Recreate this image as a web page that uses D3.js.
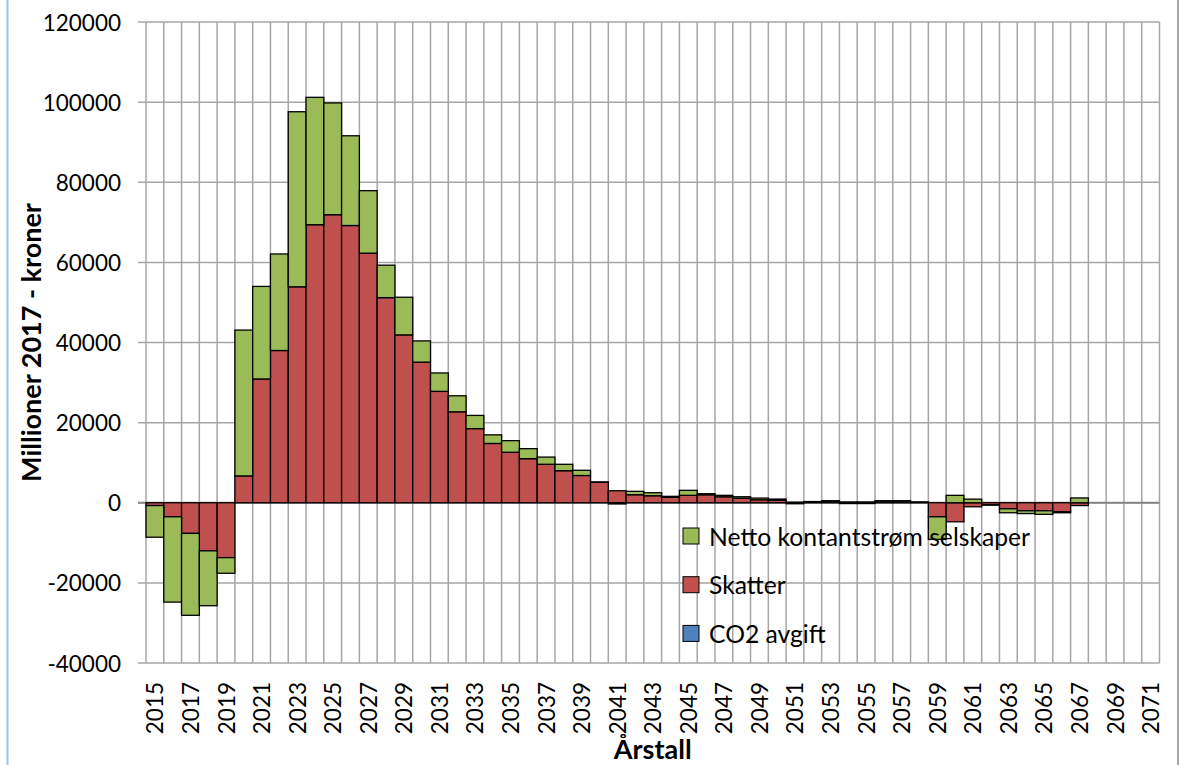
<!DOCTYPE html>
<html>
<head>
<meta charset="utf-8">
<script src="https://cdn.jsdelivr.net/npm/d3@7"></script>
<style>
  body { margin: 0; background: #fff; }
  svg { display: block; font-family: Lato, "Open Sans", sans-serif; }
</style>
</head>
<body>
<div id="chart"></div>
<script>
// chart data (millioner 2017-kroner)
var years = [2015, 2016, 2017, 2018, 2019, 2020, 2021, 2022, 2023, 2024,
             2025, 2026, 2027, 2028, 2029, 2030, 2031, 2032, 2033, 2034,
             2035, 2036, 2037, 2038, 2039, 2040, 2041, 2042, 2043, 2044,
             2045, 2046, 2047, 2048, 2049, 2050, 2051, 2052, 2053, 2054,
             2055, 2056, 2057, 2058, 2059, 2060, 2061, 2062, 2063, 2064,
             2065, 2066, 2067, 2068, 2069, 2070, 2071];

var co2_avgift = [0, 0, 0, 0, 0, 0, 0, 0, 0, 0,
                  0, 0, 0, 0, 0, 0, 0, 0, 0, 0,
                  0, 0, 0, 0, 0, 0, 0, 0, 0, 0,
                  0, 0, 0, 0, 0, 0, 0, 0, 0, 0,
                  0, 0, 0, 0, 0, 0, 0, 0, 0, 0,
                  0, 0, 0, 0, 0, 0, 0];

var skatter = [-700, -3500, -7650, -12000, -13700, 6700, 30900, 38000, 53900, 69400,
               71900, 69200, 62300, 51200, 41900, 35100, 27800, 22700, 18500, 14800,
               12600, 11000, 9600, 8000, 6800, 5100, 3000, 2000, 1750, 1350,
               1850, 2000, 1500, 1100, 750, 600, 150, 300, 350, 200,
               200, 400, 400, 100, -3500, -4750, -1000, -500, -1500, -2000,
               -2000, -2250, -700, 0, 0, 0, 0];

var netto = [-7900, -21300, -20450, -13700, -3900, 36400, 23100, 24100, 43700, 31800,
             27900, 22400, 15600, 8100, 9400, 5300, 4600, 4000, 3300, 2150,
             2900, 2500, 1800, 1600, 1300, 100, -300, 850, 750, 250,
             1250, 250, 350, 400, 420, 320, -250, 0, 150, -200,
             -200, 100, 100, 100, -5650, 1850, 900, -100, -1000, -700,
             -900, -250, 1200, 0, 0, 0, 0];

var y_ticks = [-40000, -20000, 0, 20000, 40000, 60000, 80000, 100000, 120000];
var year_labels = years.filter(function(d, i) { return i % 2 == 0; });

var legend_names = ["Netto kontantstrøm selskaper", "Skatter", "CO2 avgift"];
var legend_keys = ["netto", "skatter", "co2"];

// sizes
var svg_w = 1179;
var svg_h = 765;
var plot = { left: 146, right: 1159.5, top: 22, bottom: 663 };

var colors = { co2: "#4F81BD", skatter: "#C0504D", netto: "#9BBB59" };
var grid_color = "#A6A6A6";

var svg = d3.select("#chart").append("svg")
	.attr("width", svg_w)
	.attr("height", svg_h);

// page edges
svg.append("line")
	.attr("x1", 7.5).attr("x2", 7.5).attr("y1", 0).attr("y2", svg_h)
	.attr("stroke", "#9DC3E6").attr("stroke-width", 2);
svg.append("line")
	.attr("x1", 1178).attr("x2", 1178).attr("y1", 0).attr("y2", svg_h)
	.attr("stroke", "#A6A6A6").attr("stroke-width", 2);

var x = d3.scaleBand()
	.domain(years)
	.range([plot.left, plot.right])
	.padding(0);

var y = d3.scaleLinear()
	.domain([-40000, 120000])
	.range([plot.bottom, plot.top]);

// horizontal gridlines + small ticks on the left
svg.append("g").selectAll("line")
	.data(y_ticks)
	.enter()
	.append("line")
	.attr("x1", plot.left - 8)
	.attr("x2", plot.right)
	.attr("y1", function(d) { return y(d); })
	.attr("y2", function(d) { return y(d); })
	.attr("stroke", grid_color)
	.attr("stroke-width", 1.5);

// vertical gridlines on category borders
var borders = years.map(function(d) { return x(d); }).concat([plot.right]);
svg.append("g").selectAll("line")
	.data(borders)
	.enter()
	.append("line")
	.attr("x1", function(d) { return d; })
	.attr("x2", function(d) { return d; })
	.attr("y1", plot.top)
	.attr("y2", plot.bottom)
	.attr("stroke", grid_color)
	.attr("stroke-width", 1.5);

// stacked bars
var rows = years.map(function(yr, i) {
	return { year: yr, co2: co2_avgift[i], skatter: skatter[i], netto: netto[i] };
});

var stack = d3.stack()
	.keys(["co2", "skatter", "netto"])
	.offset(d3.stackOffsetDiverging);

var series = stack(rows);

// zero line (category axis)
svg.append("line")
	.attr("x1", plot.left - 8)
	.attr("x2", plot.right)
	.attr("y1", y(0))
	.attr("y2", y(0))
	.attr("stroke", "#868686")
	.attr("stroke-width", 2.2);

svg.append("g").selectAll("g")
	.data(series)
	.enter()
	.append("g")
	.attr("fill", function(s) { return colors[s.key]; })
	.selectAll("rect")
	.data(function(s) { return s.filter(function(d) { return d[1] - d[0] != 0; }); })
	.enter()
	.append("rect")
	.attr("x", function(d) { return x(d.data.year); })
	.attr("width", x.bandwidth())
	.attr("y", function(d) { return y(Math.max(d[0], d[1])); })
	.attr("height", function(d) { return Math.abs(y(d[0]) - y(d[1])); })
	.attr("stroke", "#000")
	.attr("stroke-width", 1.3);

// y tick labels
svg.append("g").selectAll("text")
	.data(y_ticks)
	.enter()
	.append("text")
	.attr("x", 121)
	.attr("y", function(d) { return y(d); })
	.attr("text-anchor", "end")
	.attr("dominant-baseline", "central")
	.attr("font-size", 22.5)
	.attr("fill", "#000")
	.text(function(d) { return d; });

// year labels, rotated
svg.append("g").selectAll("text")
	.data(year_labels)
	.enter()
	.append("text")
	.attr("transform", function(d) {
		return "translate(" + (x(d) + x.bandwidth() / 2) + ",682) rotate(-90)";
	})
	.attr("text-anchor", "end")
	.attr("dominant-baseline", "central")
	.attr("font-size", 22.5)
	.attr("fill", "#000")
	.text(function(d) { return d; });

// axis titles
svg.append("text")
	.attr("transform", "translate(30," + ((plot.top + plot.bottom) / 2) + ") rotate(-90)")
	.attr("text-anchor", "middle")
	.attr("dominant-baseline", "central")
	.attr("font-size", 27)
	.attr("font-weight", "bold")
	.text("Millioner 2017 - kroner");

svg.append("text")
	.attr("x", (plot.left + plot.right) / 2)
	.attr("y", 759)
	.attr("text-anchor", "middle")
	.attr("font-size", 27)
	.attr("font-weight", "bold")
	.text("Årstall");

// legend (drawn on top of the bars, no box)
var legend = svg.append("g").selectAll("g")
	.data(legend_keys)
	.enter()
	.append("g")
	.attr("transform", function(d, i) { return "translate(683," + (536 + i * 48.7) + ")"; });

legend.append("rect")
	.attr("x", 0).attr("y", -8)
	.attr("width", 16).attr("height", 16)
	.attr("fill", function(d) { return colors[d]; })
	.attr("stroke", "#000")
	.attr("stroke-width", 1);

legend.append("text")
	.attr("x", 26)
	.attr("y", 0)
	.attr("dominant-baseline", "central")
	.attr("font-size", 24.7)
	.attr("fill", "#000")
	.text(function(d, i) { return legend_names[i]; });
</script>
</body>
</html>
